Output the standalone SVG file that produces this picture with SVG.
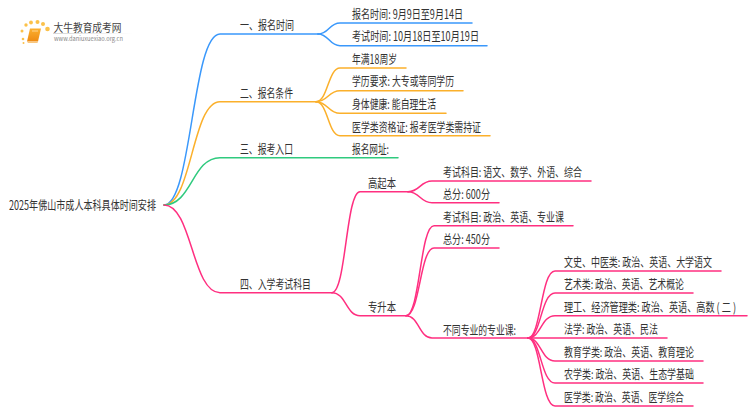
<svg xmlns="http://www.w3.org/2000/svg" width="750" height="410" viewBox="0 0 750 410">
<style>
text{font-family:"Noto Sans CJK SC","Noto Sans",sans-serif;font-size:12.5px;fill:#333}
.c{fill:none;stroke-width:1.5;stroke-linecap:round}
.b{stroke:#3a98fb}.o{stroke:#fbb02b}.g{stroke:#2fca7e}.p{stroke:#ff2f80}
.d{fill:#fbc14a}
</style>
<defs><linearGradient id="fade"><stop offset="0" stop-color="#ccc"/><stop offset="1" stop-color="#fff"/></linearGradient>
<linearGradient id="bk" x1="0" y1="0" x2="0" y2="1"><stop offset="0" stop-color="#fbb030"/><stop offset="1" stop-color="#ee8a12"/></linearGradient></defs>
<rect width="750" height="410" fill="#fff"/>
<g id="logo">
<circle class="d" cx="23" cy="39" r="1.3"/><circle class="d" cx="22" cy="31" r="1.5"/><circle class="d" cx="26" cy="25" r="1.7"/><circle class="d" cx="31" cy="22.5" r="1.9"/><circle class="d" cx="37.500" cy="22" r="2"/><circle class="d" cx="43" cy="24" r="2"/><circle class="d" cx="47.500" cy="29" r="2.300"/><circle class="d" cx="23.500" cy="43" r="1"/>
<path d="M30 28.500H41L38 41.500H27Z" fill="url(#bk)"/><path d="M27 41.500H38L37.500 43H28Z" fill="#f9c77e"/><path d="M32 31H38" stroke="#ffe0a8" stroke-width=".8"/>
<text x="53.500" y="31.500" style="font-size:11.500px;fill:#444" textLength="68" lengthAdjust="spacingAndGlyphs">大牛教育成考网</text>
<rect x="53" y="33" width="80" height=".8" fill="url(#fade)"/>
<text x="54" y="41" style="font-size:6px;fill:#888" textLength="69" lengthAdjust="spacingAndGlyphs">www.daniuxuexiao.org.cn</text>
</g>
<g id="connectors">
<path class="c b" d="M164 205C192 205 192 34 220 34H318"/>
<path class="c b" d="M318 34C329 34 329 23 340 23H472"/>
<path class="c b" d="M318 34C329 34 329 45.700 340 45.700H487"/>
<path class="c o" d="M164 205C192 205 192 101.700 220 101.700H316"/>
<path class="c o" d="M316 101.700C328 101.700 328 68 340 68H406"/>
<path class="c o" d="M316 101.700C328 101.700 328 90.700 340 90.700H463"/>
<path class="c o" d="M316 101.700C328 101.700 328 113.300 340 113.300H446"/>
<path class="c o" d="M316 101.700C328 101.700 328 135.700 340 135.700H490"/>
<path class="c g" d="M164 205C192 205 192 157.700 220 157.700H398"/>
<path class="c p" d="M164 205C192 205 192 292.700 220 292.700H332"/>
<path class="c p" d="M332 292.700C346 292.700 346 191.700 360 191.700H408"/>
<path class="c p" d="M408 191.700C420 191.700 420 181 432 181H591"/>
<path class="c p" d="M408 191.700C420 191.700 420 202.700 432 202.700H499"/>
<path class="c p" d="M332 292.700C346 292.700 346 315.700 360 315.700H406"/>
<path class="c p" d="M406 315.700C420 315.700 420 225.700 434 225.700H573"/>
<path class="c p" d="M406 315.700C420 315.700 420 248 434 248H499"/>
<path class="c p" d="M406 315.700C419 315.700 419 338 432 338H528"/>
<path class="c p" d="M528 338C541 338 541 271 555 271H721"/>
<path class="c p" d="M528 338C541 338 541 293 555 293H693"/>
<path class="c p" d="M528 338C541 338 541 315.700 555 315.700H747"/>
<path class="c p" d="M528 338H667"/>
<path class="c p" d="M528 338C541 338 541 361 555 361H703"/>
<path class="c p" d="M528 338C541 338 541 383 555 383H703"/>
<path class="c p" d="M528 338C541 338 541 406 555 406H693"/>
</g>
<g id="root"><text x="9" y="209.500" textLength="147" lengthAdjust="spacingAndGlyphs">2025年佛山市成人本科具体时间安排</text></g>
<g id="n1"><text x="240" y="29.500" textLength="54" lengthAdjust="spacingAndGlyphs">一、报名时间</text></g>
<g id="n1a"><text x="352" y="18.500" textLength="111" lengthAdjust="spacingAndGlyphs">报名时间: 9月9日至9月14日</text></g>
<g id="n1b"><text x="352" y="41" textLength="127" lengthAdjust="spacingAndGlyphs">考试时间: 10月18日至10月19日</text></g>
<g id="n2"><text x="240" y="98" textLength="53" lengthAdjust="spacingAndGlyphs">二、报名条件</text></g>
<g id="n2a"><text x="352" y="63.500" textLength="45" lengthAdjust="spacingAndGlyphs">年满18周岁</text></g>
<g id="n2b"><text x="352" y="86" textLength="102" lengthAdjust="spacingAndGlyphs">学历要求: 大专或等同学历</text></g>
<g id="n2c"><text x="352" y="109" textLength="84" lengthAdjust="spacingAndGlyphs">身体健康: 能自理生活</text></g>
<g id="n2d"><text x="352" y="131.500" textLength="129" lengthAdjust="spacingAndGlyphs">医学类资格证: 报考医学类需持证</text></g>
<g id="n3"><text x="240" y="154" textLength="53" lengthAdjust="spacingAndGlyphs">三、报考入口</text></g>
<g id="n3a"><text x="352" y="154" textLength="37" lengthAdjust="spacingAndGlyphs">报名网址:</text></g>
<g id="n4"><text x="240" y="289" textLength="71" lengthAdjust="spacingAndGlyphs">四、入学考试科目</text></g>
<g id="n41"><text x="368" y="187.500" textLength="28" lengthAdjust="spacingAndGlyphs">高起本</text></g>
<g id="n41a"><text x="443" y="176.500" textLength="139" lengthAdjust="spacingAndGlyphs">考试科目: 语文、数学、外语、综合</text></g>
<g id="n41b"><text x="443" y="198.500" textLength="47" lengthAdjust="spacingAndGlyphs">总分: 600分</text></g>
<g id="n42"><text x="368" y="311.500" textLength="28" lengthAdjust="spacingAndGlyphs">专升本</text></g>
<g id="n42a"><text x="443" y="221.500" textLength="121" lengthAdjust="spacingAndGlyphs">考试科目: 政治、英语、专业课</text></g>
<g id="n42b"><text x="443" y="243.500" textLength="47" lengthAdjust="spacingAndGlyphs">总分: 450分</text></g>
<g id="n42c"><text x="443" y="334.500" textLength="73" lengthAdjust="spacingAndGlyphs">不同专业的专业课:</text></g>
<g id="l1"><text transform="translate(564 266.500) scale(.72 1)" textLength="205.600" lengthAdjust="spacingAndGlyphs">文史、中医类: 政治、英语、大学语文</text></g>
<g id="l2"><text x="564" y="289" textLength="120" lengthAdjust="spacingAndGlyphs">艺术类: 政治、英语、艺术概论</text></g>
<g id="l3"><text transform="translate(564 311.500) scale(.72 1)" textLength="238.900" lengthAdjust="spacingAndGlyphs">理工、经济管理类: 政治、英语、高数 ( 二 )</text></g>
<g id="l4"><text x="564" y="334" textLength="94" lengthAdjust="spacingAndGlyphs">法学: 政治、英语、民法</text></g>
<g id="l5"><text x="564" y="356.500" textLength="130" lengthAdjust="spacingAndGlyphs">教育学类: 政治、英语、教育理论</text></g>
<g id="l6"><text x="564" y="379" textLength="130" lengthAdjust="spacingAndGlyphs">农学类: 政治、英语、生态学基础</text></g>
<g id="l7"><text x="564" y="401.500" textLength="120" lengthAdjust="spacingAndGlyphs">医学类: 政治、英语、医学综合</text></g>
</svg>
